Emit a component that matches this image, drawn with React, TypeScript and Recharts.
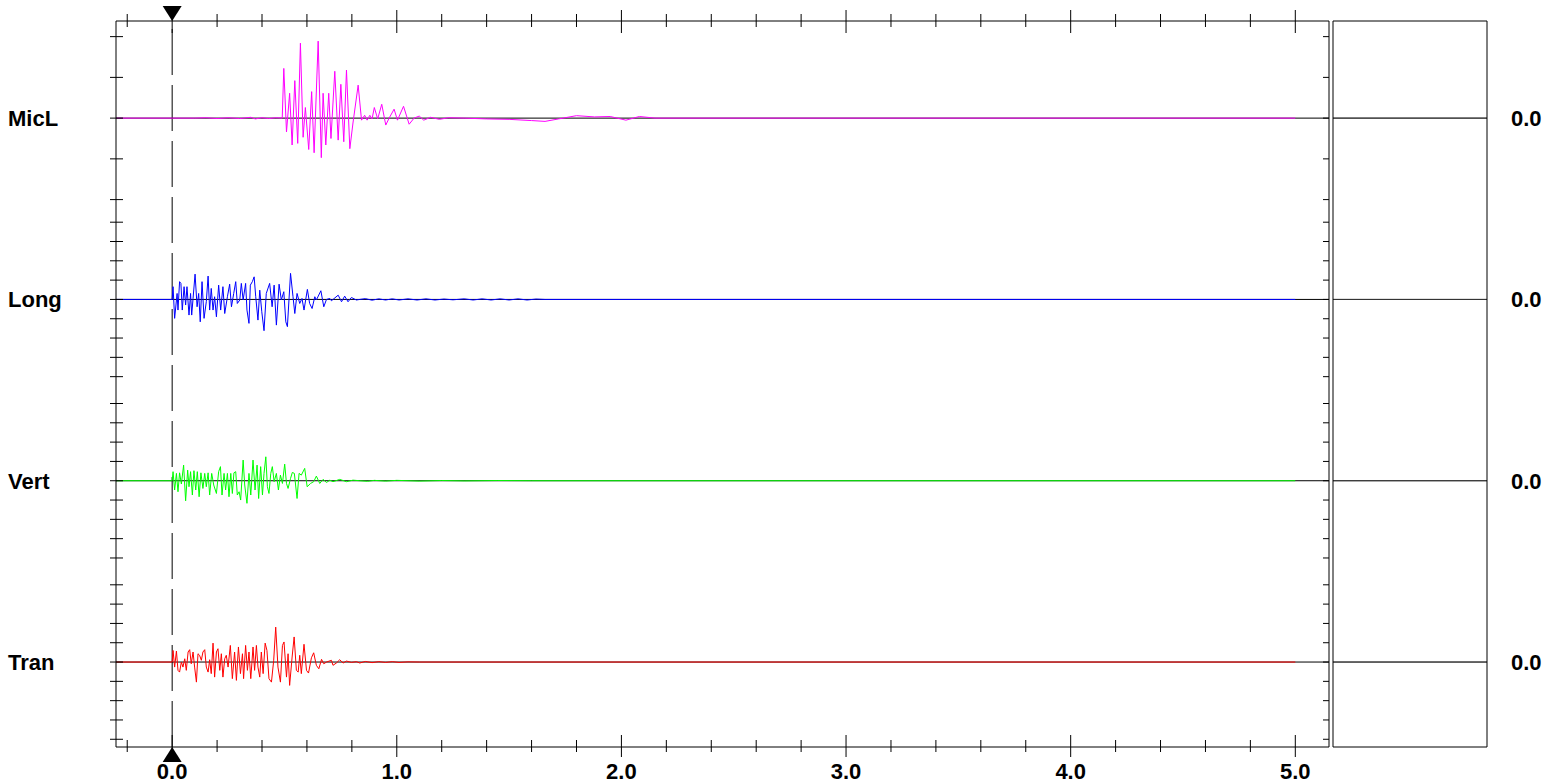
import { LineChart, Line, XAxis, YAxis, ReferenceLine, ReferenceDot } from "recharts";

// time in seconds, amplitude in trace units (one left tick = one unit)
const MICL: [number, number][] = [
  [-0.25, 0], [0.1, 0], [0.15, 0.01], [0.2, -0.01], [0.25, 0.01], [0.3, -0.01], [0.35, 0.02], [0.37, -0.02],
  [0.4, 0.01], [0.43, -0.01], [0.46, 0.01], [0.49, 0],
  [0.497, 1.22], [0.509, -0.34], [0.523, 0.61], [0.534, -0.66], [0.546, 0.92], [0.559, -0.62], [0.571, 1.84],
  [0.583, -0.47], [0.593, 0.26], [0.608, -0.77], [0.621, 0.65], [0.632, -0.85], [0.65, 1.89], [0.664, -0.97],
  [0.672, 0.61], [0.684, -0.66], [0.697, 0.61], [0.707, -0.5], [0.724, 1.15], [0.739, -0.54], [0.751, 0.83],
  [0.764, -0.58], [0.776, 1.18], [0.791, -0.75], [0.805, -0.12], [0.828, 0.81], [0.843, -0.05], [0.857, 0.07],
  [0.868, -0.05], [0.88, 0.07], [0.89, -0.02], [0.9, 0.26], [0.915, -0.02], [0.933, 0.34], [0.951, -0.17],
  [0.966, 0], [0.988, 0.22], [1.003, -0.05], [1.03, 0.29], [1.055, -0.15], [1.077, 0], [1.1, 0.05],
  [1.12, -0.05], [1.15, 0.02], [1.19, -0.03], [1.23, 0.01], [1.3, 0], [1.4, -0.02], [1.5, -0.03],
  [1.6, -0.06], [1.66, -0.08], [1.72, -0.02], [1.8, 0.06], [1.88, 0.03], [1.95, 0.04], [2.02, -0.05],
  [2.08, 0.04], [2.15, 0], [5.0, 0],
];

const LONG: [number, number][] = [
  [-0.25, 0], [0, 0], [0.004, 0.66], [0.011, -0.98], [0.022, 0.31], [0.026, -0.55], [0.033, 0.92], [0.039, 0.83],
  [0.045, -0.55], [0.053, 0.66], [0.06, -0.29], [0.066, 0.66], [0.075, -0.81], [0.082, 0.31], [0.087, -0.81],
  [0.093, 0.05], [0.102, 1.31], [0.111, -0.38], [0.118, 0.31], [0.125, -1.16], [0.133, 0.92], [0.142, -0.98],
  [0.152, -0.12], [0.16, 1.21], [0.167, -0.55], [0.174, 0.57], [0.182, -0.55], [0.189, 0.14], [0.197, -0.9],
  [0.207, 0.74], [0.216, -0.55], [0.226, 0.66], [0.234, -0.73], [0.246, 0.14], [0.256, 0.79], [0.264, -0.38],
  [0.274, 0.31], [0.283, 0.92], [0.29, -0.21], [0.301, -0.03], [0.308, 0.83], [0.316, -0.03], [0.327, 0.83],
  [0.333, -0.55], [0.342, -1.24], [0.348, 0.74], [0.357, 0.92], [0.365, 1.17], [0.372, 0.14], [0.382, -1.07],
  [0.39, 0.48], [0.399, -0.64], [0.409, -1.62], [0.419, 0.31], [0.434, 0.83], [0.445, -0.38], [0.454, 0.74],
  [0.464, -1.33], [0.476, 0.79], [0.486, -0.03], [0.497, 0.4], [0.506, -1.16], [0.513, -1.41], [0.527, 1.35],
  [0.538, 0.14], [0.546, -0.73], [0.556, 0.31], [0.568, -0.21], [0.578, 0.05], [0.587, -0.55], [0.602, 0.52],
  [0.612, -0.21], [0.623, -0.47], [0.635, 0.14], [0.642, -0.03], [0.662, 0.45], [0.675, -0.38], [0.687, 0],
  [0.702, 0.05], [0.709, -0.07], [0.739, 0.22], [0.754, -0.12], [0.768, 0.17], [0.783, -0.12], [0.798, 0.1],
  [0.82, -0.03], [0.835, 0], [0.86, 0.04], [0.89, -0.04], [0.92, 0.03], [0.95, -0.03], [0.98, 0.03],
  [1.01, -0.03], [1.05, 0.03], [1.09, -0.03], [1.13, 0.03], [1.17, -0.03], [1.21, 0.02], [1.25, -0.02],
  [1.3, 0.03], [1.34, -0.03], [1.38, 0.03], [1.42, -0.03], [1.46, 0.03], [1.5, -0.03], [1.54, 0.03],
  [1.58, -0.03], [1.62, 0.02], [1.66, 0], [5.0, 0],
];

const VERT: [number, number][] = [
  [-0.25, 0], [0, 0], [0.004, 0.47], [0.011, -0.48], [0.019, 0.38], [0.026, -0.57], [0.033, 0.41], [0.041, -0.17],
  [0.051, 0.81], [0.06, -1.04], [0.069, 0.55], [0.075, -0.31], [0.082, 0.47], [0.09, -0.74], [0.097, 0.52],
  [0.105, -0.48], [0.112, 0.47], [0.12, -0.83], [0.128, 0.41], [0.137, -0.4], [0.145, 0.38], [0.152, -0.31],
  [0.16, 0.41], [0.167, -0.74], [0.176, 0.38], [0.185, -0.22], [0.197, -0.66], [0.207, 0.47], [0.215, 0.73],
  [0.222, -0.74], [0.231, 0.38], [0.238, -0.48], [0.246, 0.38], [0.253, -0.83], [0.261, 0.38], [0.268, -0.66],
  [0.275, 0.41], [0.283, 0.47], [0.29, -0.74], [0.298, -0.57], [0.305, -1.0], [0.316, 1.07], [0.323, -0.22],
  [0.333, -1.17], [0.342, 0.38], [0.35, -0.74], [0.36, 1.07], [0.369, -0.48], [0.378, 0.81], [0.385, -0.92],
  [0.394, 0.73], [0.402, -0.74], [0.409, 0.38], [0.417, 1.24], [0.424, -0.31], [0.431, -0.66], [0.439, 0.38],
  [0.446, 0.73], [0.454, -0.05], [0.464, 0.38], [0.473, -0.48], [0.482, 0.29], [0.491, -0.14], [0.501, 0.86],
  [0.509, -0.14], [0.516, -0.4], [0.527, 0.12], [0.535, 0.43], [0.544, 0.38], [0.556, -0.92], [0.565, 0.38],
  [0.575, 0.29], [0.59, 0.64], [0.601, -0.31], [0.616, -0.14], [0.63, -0.05], [0.642, 0.24], [0.657, -0.14],
  [0.672, 0.07], [0.687, -0.09], [0.702, 0.03], [0.716, -0.05], [0.746, 0.07], [0.776, -0.05], [0.805, 0.03],
  [0.835, 0], [0.87, -0.03], [0.9, 0.02], [0.95, -0.02], [1.0, 0.02], [1.1, -0.02], [1.2, 0.01], [1.3, -0.01],
  [1.45, 0.01], [1.6, 0], [5.0, 0],
];

const TRAN: [number, number][] = [
  [-0.25, 0], [0, 0], [0.004, 0.6], [0.011, -0.26], [0.019, 0.57], [0.026, -0.43], [0.033, -0.52], [0.041, 0],
  [0.048, -0.26], [0.056, 0.17], [0.063, -0.43], [0.071, 0.52], [0.078, 0.64], [0.085, -0.09], [0.093, 0.52],
  [0.1, -0.26], [0.108, -1.04], [0.115, 0.43], [0.122, 0.35], [0.13, 0.09], [0.137, 0.52], [0.145, 0.64],
  [0.152, -0.26], [0.16, -0.52], [0.167, 0.12], [0.174, -0.6], [0.182, 0.98], [0.189, -0.78], [0.197, 0.52],
  [0.204, 0.69], [0.212, -0.43], [0.219, 0.43], [0.226, -0.78], [0.234, 0.17], [0.241, 0.35], [0.249, -0.26],
  [0.259, 0.86], [0.268, -0.86], [0.278, 0.52], [0.286, -0.95], [0.295, 0.78], [0.304, -0.6], [0.313, 0.43],
  [0.318, -0.86], [0.327, 0.86], [0.335, -0.43], [0.342, 0.52], [0.35, -0.86], [0.36, 0.78], [0.367, -0.43],
  [0.375, 0.86], [0.382, -0.26], [0.39, -0.78], [0.397, 0.52], [0.405, -0.6], [0.414, 0.98], [0.422, 0.6],
  [0.431, -0.86], [0.442, -1.04], [0.452, 0.09], [0.461, 1.81], [0.471, -0.26], [0.482, -1.04], [0.491, 0.86],
  [0.498, 1.04], [0.509, -0.78], [0.516, 0.43], [0.523, -1.21], [0.534, 0.26], [0.543, 1.3], [0.553, -0.43],
  [0.561, -0.52], [0.568, 0.35], [0.575, -0.6], [0.587, 0.92], [0.598, -0.43], [0.607, -0.57], [0.62, 0.22],
  [0.63, 0.48], [0.642, -0.17], [0.653, -0.35], [0.665, 0.14], [0.675, -0.09], [0.687, 0], [0.709, 0.09],
  [0.716, -0.17], [0.731, -0.05], [0.746, 0.12], [0.761, -0.05], [0.776, 0.05], [0.798, -0.02], [0.82, 0.02],
  [0.835, -0.05], [0.86, 0.03], [0.89, -0.03], [0.92, 0.02], [0.95, -0.02], [0.98, 0.02], [1.01, -0.02],
  [1.05, 0.01], [1.1, 0], [5.0, 0],
];

const NAMES = ["MicL", "Long", "Vert", "Tran"];
const COLORS = ["#ff00ff", "#0000ff", "#00ff00", "#ff0000"];
const SERIES = [MICL, LONG, VERT, TRAN];
const UNITS = [2.11, 1, 1, 1]; // divisions per trace unit
const LANE_TICKS = [[-2, -1, 0, 1, 2], [-4, -3, -2, -1, 0, 1, 2, 3, 4], [-4, -3, -2, -1, 0, 1, 2, 3, 4], [-4, -3, -2, -1, 0, 1, 2, 3, 4]];
const X_TICKS = [-0.2, 0, 0.2, 0.4, 0.6, 0.8, 1, 1.2, 1.4, 1.6, 1.8, 2, 2.2, 2.4, 2.6, 2.8, 3, 3.2, 3.4, 3.6, 3.8, 4, 4.2, 4.4, 4.6, 4.8, 5];
const X_DOMAIN = [-0.25, 5.15];

// vertical layout in divisions, counted from the top of the plot
const SPAN = 37.6;
const FIRST = 5.03;
const GAP = 9.39;

const lanes = NAMES.map((name, i) => {
  const base = FIRST + GAP * i;
  const u = UNITS[i];
  return {
    name,
    base,
    color: COLORS[i],
    frameTicks: LANE_TICKS[i].map((k) => base - k * u),
    data: SERIES[i].map(([t, v]) => ({ t, v: base - v * u })),
    baseline: X_DOMAIN.map((t) => ({ t, v: base })),
  };
});
const FRAME_TICKS = lanes.flatMap((l) => l.frameTicks);
const BASES = lanes.map((l) => l.base);
const laneAt = (v: number) => lanes.find((l) => Math.abs(l.base - v) < 1e-6);

const FONT = "'Liberation Sans', Arial, sans-serif";

const leftTick = (p: any) => {
  const { x, y, payload } = p;
  const lane = laneAt(payload.value);
  return (
    <g>
      <line x1={x - 6} x2={x + 7} y1={y} y2={y} stroke="#000" />
      {lane && (
        <text x={x - 108} y={y + 8} fontSize={22} fontWeight="bold" fill="#000" fontFamily={FONT}>{lane.name}</text>
      )}
    </g>
  );
};

const rightTick = (p: any) => <line x1={p.x - 6} x2={p.x} y1={p.y} y2={p.y} stroke="#000" />;

const valueTick = (p: any) => (
  <text x={p.x + 24} y={p.y + 8} fontSize={22} fontWeight="bold" fill="#000" fontFamily={FONT}>
    {(0).toFixed(1)}
  </text>
);

const isMajor = (v: number) => Math.abs(v - Math.round(v)) < 1e-6;

const bottomTick = (p: any) => {
  const { x, y, payload } = p;
  const major = isMajor(payload.value);
  return (
    <g>
      <line x1={x} x2={x} y1={major ? y - 12 : y - 7} y2={major ? y + 10 : y + 5} stroke="#000" />
      {major && (
        <text x={x} y={y + 32} textAnchor="middle" fontSize={22} fontWeight="bold" fill="#000" fontFamily={FONT}>
          {payload.value.toFixed(1)}
        </text>
      )}
    </g>
  );
};

const topTick = (p: any) => {
  const { x, y, payload } = p;
  const major = isMajor(payload.value);
  return <line x1={x} x2={x} y1={major ? y - 11 : y - 7} y2={major ? y + 12 : y + 6} stroke="#000" />;
};

const noTick = () => <g />;

const downTri = (p: any) => (
  <path d={`M${p.cx - 9.5},${p.cy - 15}L${p.cx + 9.5},${p.cy - 15}L${p.cx},${p.cy}Z`} fill="#000" />
);
const upTri = (p: any) => (
  <path d={`M${p.cx - 9.5},${p.cy + 15}L${p.cx + 9.5},${p.cy + 15}L${p.cx},${p.cy}Z`} fill="#000" />
);

export default function App() {
  return (
    <div style={{ position: "absolute", left: 0, top: 0, width: 1546, height: 783, background: "#fff", fontFamily: FONT }}>
      <div style={{ position: "absolute", left: 0, top: 0 }}>
        <LineChart width={1546} height={783} margin={{ top: 20, right: 216, bottom: 35, left: 115 }}>
          <XAxis dataKey="t" type="number" domain={X_DOMAIN} ticks={X_TICKS} allowDataOverflow height={1}
            tickSize={0} tickMargin={0} tick={bottomTick} stroke="#000" interval={0} />
          <XAxis xAxisId="top" dataKey="t" orientation="top" type="number" domain={X_DOMAIN} ticks={X_TICKS}
            allowDataOverflow height={1} tickSize={0} tickMargin={0} tick={topTick} stroke="#000" interval={0} />
          <YAxis yAxisId="frame" type="number" domain={[0, SPAN]} reversed ticks={FRAME_TICKS} allowDataOverflow
            width={1} tickSize={0} tickMargin={0} tick={leftTick} stroke="#000" interval={0} />
          <YAxis yAxisId="frameR" orientation="right" type="number" domain={[0, SPAN]} reversed ticks={FRAME_TICKS}
            allowDataOverflow width={1} tickSize={0} tickMargin={0} tick={rightTick} stroke="#000" interval={0} />
          {lanes.map((l) => (
            <Line key={"b" + l.name} xAxisId="top" yAxisId="frame" data={l.baseline} dataKey="v" type="linear"
              stroke="#000" strokeWidth={1} dot={false} activeDot={false} isAnimationActive={false} />
          ))}
          <ReferenceLine yAxisId="frame" x={0} stroke="#000" strokeDasharray="46 10" />
          <ReferenceDot yAxisId="frame" x={0} y={0} ifOverflow="visible" shape={downTri} />
          <ReferenceDot yAxisId="frame" x={0} y={SPAN} ifOverflow="visible" shape={upTri} />
          {lanes.map((l) => (
            <Line key={l.name} yAxisId="frame" data={l.data} dataKey="v" type="linear" stroke={l.color}
              strokeWidth={1} dot={false} activeDot={false} isAnimationActive={false} />
          ))}
        </LineChart>
      </div>
      <div style={{ position: "absolute", left: 1329, top: 0 }}>
        <LineChart width={217} height={783} margin={{ top: 20, right: 58, bottom: 35, left: 3 }}>
          <XAxis dataKey="t" type="number" domain={[0, 1]} ticks={[0, 1]} height={1} tick={noTick} tickLine={false}
            stroke="#000" />
          <XAxis xAxisId="top" dataKey="t" orientation="top" type="number" domain={[0, 1]} ticks={[0, 1]} height={1}
            tick={noTick} tickLine={false} stroke="#000" />
          <YAxis yAxisId="frame" type="number" domain={[0, SPAN]} reversed ticks={BASES} width={1} tick={noTick}
            tickLine={false} stroke="#000" />
          <YAxis yAxisId="frameR" orientation="right" type="number" domain={[0, SPAN]} reversed ticks={BASES}
            width={1} tickSize={0} tickMargin={0} tickLine={false} stroke="#000" interval={0} tick={valueTick} />
          {lanes.map((l) => (
            <Line key={"rb" + l.name} yAxisId="frame" data={[{ t: 0, v: l.base }, { t: 1, v: l.base }]} dataKey="v"
              type="linear" stroke="#333" strokeWidth={1} dot={false} activeDot={false} isAnimationActive={false} />
          ))}
          {lanes.map((l) => (
            <Line key={"rv" + l.name} yAxisId="frameR" data={[{ t: 0, v: l.base }, { t: 1, v: l.base }]} dataKey="v"
              type="linear" stroke="#333" strokeWidth={1} dot={false} activeDot={false} isAnimationActive={false} />
          ))}
        </LineChart>
      </div>
    </div>
  );
}
